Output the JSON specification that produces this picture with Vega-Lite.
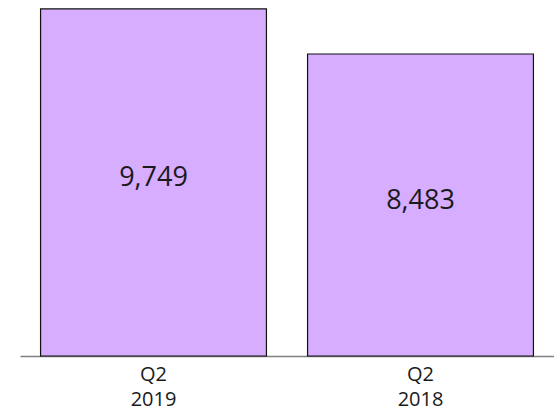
{
  "$schema": "https://vega.github.io/schema/vega-lite/v6.json",
  "width": 534,
  "height": 356,
  "autosize": {"type": "none"},
  "padding": {"left": 20, "top": 0, "right": 0, "bottom": 55},
  "background": "white",
  "config": {"view": {"stroke": null}},
  "data": {"values": [
    {"period": "Q2\n2019", "value": 9749},
    {"period": "Q2\n2018", "value": 8483}
  ]},
  "transform": [{"calculate": "datum.value / 2", "as": "mid"}],
  "encoding": {
    "x": {
      "field": "period", "type": "nominal", "sort": null,
      "scale": {"paddingInner": 0.154, "paddingOuter": 0.077},
      "axis": {
        "title": null, "labelAngle": 0, "ticks": false,
        "domainColor": "#808080", "domainWidth": 1.5, "domainOpacity": 1,
        "labelExpr": "split(datum.label, '\\n')",
        "labelFont": "Open Sans", "labelFontSize": 20, "labelColor": "#1a1a1a",
        "labelLineHeight": 25, "labelPadding": 8
      }
    }
  },
  "layer": [
    {
      "mark": {"type": "bar", "color": "#d6adff", "stroke": "#111111", "strokeWidth": 1.2},
      "encoding": {
        "y": {"field": "value", "type": "quantitative", "scale": {"domain": [0, 10000], "nice": false}, "axis": null}
      }
    },
    {
      "mark": {"type": "text", "font": "Open Sans", "fontSize": 27, "letterSpacing": 1.5, "color": "#1a1a1a", "baseline": "middle", "dy": -4},
      "encoding": {
        "y": {"field": "mid", "type": "quantitative"},
        "text": {"field": "value", "type": "quantitative", "format": ","}
      }
    }
  ]
}
